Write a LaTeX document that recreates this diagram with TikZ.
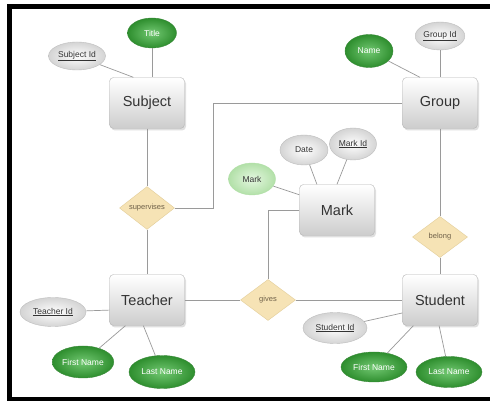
\documentclass[tikz,border=0pt]{standalone}
\usepackage{fontspec}
\setmainfont{Liberation Sans}
\usetikzlibrary{shapes.geometric,shadows}
\definecolor{ink}{HTML}{333333}
\definecolor{boxedge}{HTML}{B5B5B5}
\definecolor{boxfill}{HTML}{CDCDCD}
\definecolor{ovaledge}{HTML}{BDBDBD}
\definecolor{ovalfill}{HTML}{D4D4D4}
\definecolor{greenin}{HTML}{72C872}
\definecolor{greenout}{HTML}{2E8E2E}
\definecolor{greenedge}{HTML}{3A8A3A}
\definecolor{paleIn}{HTML}{E4F7E0}
\definecolor{paleOut}{HTML}{B2E0A8}
\definecolor{relfill}{HTML}{F6E3B5}
\definecolor{reledge}{HTML}{E3CD98}
\definecolor{reltext}{HTML}{6E6048}
\definecolor{linegray}{HTML}{9A9A9A}

\begin{document}
\begin{tikzpicture}[x=1pt,y=1pt,
      entity/.style={draw=boxedge,top color=white,bottom color=boxfill,rounded corners=4pt,
                     minimum width=75pt,minimum height=51pt,text=ink,
                     font=\fontsize{14.5}{16}\selectfont,
                     drop shadow={opacity=.25,shadow xshift=1.5pt,shadow yshift=-2pt}},
      keyattr/.style={ellipse,draw=ovaledge,inner color=white,outer color=ovalfill,
                     inner sep=1pt,minimum width=50pt,minimum height=30pt,text=ink,
                     font=\fontsize{8.5}{10}\selectfont},
      attr/.style={ellipse,draw=greenedge,inner color=greenin,outer color=greenout,
                     inner sep=1pt,minimum width=62pt,minimum height=31pt,text=white,
                     font=\fontsize{8.5}{10}\selectfont},
      softattr/.style={ellipse,draw=paleOut,inner color=paleIn,outer color=paleOut,
                     inner sep=1pt,minimum width=47pt,minimum height=32pt,text=ink,
                     font=\fontsize{8.5}{10}\selectfont},
      rel/.style={diamond,draw=reledge,fill=relfill,inner sep=0pt,
                     minimum width=55pt,minimum height=41pt,text=reltext,
                     font=\fontsize{7.5}{9}\selectfont},
      link/.style={draw=linegray,line width=.7pt}]
    \useasboundingbox (0,0) rectangle (490,401);
    \fill[white] (0,0) rectangle (490,401);
    \draw[line width=5pt] (9,0) -- (9,394.5) -- (490,394.5);
    \draw[line width=3.5pt] (7,1.8) -- (490,1.8);

    \node[entity] (subject) at (147,298) {Subject};
    \node[entity] (group) at (440,298) {Group};
    \node[entity] (mark) at (337,191) {Mark};
    \node[entity] (teacher) at (147,101) {Teacher};
    \node[entity] (student) at (440,101) {Student};

    \node[rel] (supervises) at (147,193) {supervises};
    \node[rel] (gives) at (268,101) {gives};
    \node[rel] (belong) at (440,164) {belong};

    \node[attr,minimum width=49pt,minimum height=30pt] (title) at (152,368) {Title};
    \node[keyattr,minimum width=57pt,minimum height=28pt] (subjectid) at (77,345) {\underline{Subject Id}};
    \node[attr,minimum width=48pt,minimum height=33pt] (name) at (369,350) {Name};
    \node[keyattr,minimum width=45pt,minimum height=28pt] (groupid) at (440,365) {\underline{Group Id}};
    \node[keyattr,minimum width=48pt,minimum height=30pt] (date) at (304,251) {Date};
    \node[keyattr,minimum width=47pt,minimum height=32pt] (markid) at (353,257) {\underline{Mark Id}};
    \node[softattr] (markval) at (252,222) {Mark};
    \node[keyattr,minimum width=66pt,minimum height=29pt] (teacherid) at (53,89) {\underline{Teacher Id}};
    \node[attr,minimum width=60pt,minimum height=32pt] (tfirst) at (83,39) {First Name};
    \node[attr,minimum width=66pt,minimum height=33pt] (tlast) at (162,29) {Last Name};
    \node[keyattr,minimum width=64pt,minimum height=31pt] (studentid) at (335,73) {\underline{Student Id}};
    \node[attr,minimum width=66pt,minimum height=30pt] (sfirst) at (374,34) {First Name};
    \node[attr,minimum width=66pt,minimum height=31pt] (slast) at (449,29) {Last Name};

    \coordinate (bend) at (213,298);

    \draw[link] (title) -- (title |- subject.north);
    \draw[link] (subjectid) -- (subject.118);
    \draw[link] (subject) -- (supervises);
    \draw[link] (supervises) -- (teacher);
    \draw[link] (supervises.east) -| (bend) -- (group.west);
    \draw[link] (name) -- (group.128);
    \draw[link] (groupid) -- (group.north);
    \draw[link] (group) -- (belong);
    \draw[link] (belong) -- (student);
    \draw[link] (date) -- (mark.128);
    \draw[link] (markid) -- (mark.north);
    \draw[link] (markval) -- (mark.158);
    \draw[link] (mark.west) -| (gives.north);
    \draw[link] (teacher) -- (gives);
    \draw[link] (gives) -- (student);
    \draw[link] (teacherid) -- (teacher.195);
    \draw[link] (tfirst) -- (teacher.230);
    \draw[link] (tlast) -- (teacher.262);
    \draw[link] (studentid) -- (student.199);
    \draw[link] (sfirst) -- (student.224);
    \draw[link] (slast) -- (student.268);
\end{tikzpicture}
\end{document}
